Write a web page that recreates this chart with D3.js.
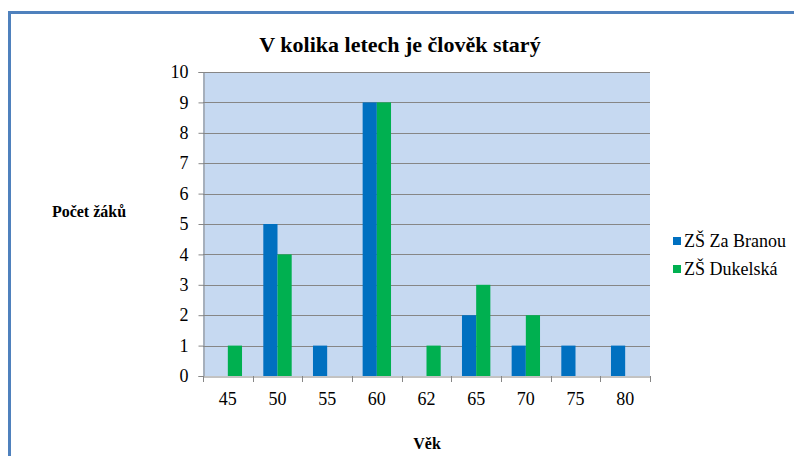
<html>
<head><meta charset="utf-8"></head>
<body style="margin:0">
<svg id="chart" width="794" height="456"></svg>
<script src="https://d3js.org/d3.v7.min.js"></script>
<script>
var ages = ["45", "50", "55", "60", "62", "65", "70", "75", "80"];
var zaBranou = [0, 5, 1, 9, 0, 2, 1, 1, 1];
var dukelska = [1, 4, 0, 9, 1, 3, 2, 0, 0];
var seriesNames = ["ZŠ Za Branou", "ZŠ Dukelská"];
var seriesColors = ["#0070c0", "#00b050"];
var yTicks = [0, 1, 2, 3, 4, 5, 6, 7, 8, 9, 10];

var width = 794, height = 456;
var plot = { left: 203, top: 72, right: 650, bottom: 376 };
var serif = "Liberation Serif";

// force the serif face on a text selection
function font(sel, size, weight) {
    sel.attr("font-family", serif).attr("font-size", size)
        .style("font-family", serif, "important")
        .style("font-size", size + "px", "important")
        .style("font-weight", weight || "normal", "important");
    return sel;
}

var svg = d3.select("#chart");

// outer frame
svg.append("rect")
    .attr("x", 9.5).attr("y", 12.5)
    .attr("width", width).attr("height", height)
    .attr("fill", "none").attr("stroke", "#4f81bd").attr("stroke-width", 3);

var x = d3.scaleBand().domain(ages).range([plot.left, plot.right]);
var y = d3.scaleLinear().domain([0, 10]).range([plot.bottom, plot.top]);
// gap width 150% -> pair of bars takes 2/3.5 of each band
var x1 = d3.scaleBand().domain([0, 1]).range([0, x.bandwidth()]).paddingOuter(0.75);

svg.append("rect")
    .attr("x", plot.left).attr("y", plot.top)
    .attr("width", plot.right - plot.left).attr("height", plot.bottom - plot.top)
    .attr("fill", "#c6d9f1");

svg.append("g").selectAll("line")
    .data(yTicks.filter(function (d) { return d > 0; }))
    .enter().append("line")
    .attr("x1", plot.left).attr("x2", plot.right)
    .attr("y1", function (d) { return Math.round(y(d)) + 0.5; })
    .attr("y2", function (d) { return Math.round(y(d)) + 0.5; })
    .attr("stroke", "#868686");

var rows = ages.map(function (a, i) { return { age: a, vals: [zaBranou[i], dukelska[i]] }; });

svg.append("g").selectAll("g")
    .data(rows).enter().append("g")
    .attr("transform", function (d) { return "translate(" + x(d.age) + ",0)"; })
    .selectAll("rect")
    .data(function (d) { return d.vals.map(function (v, k) { return { v: v, k: k }; }); })
    .enter().append("rect")
    .attr("x", function (d) { return x1(d.k); })
    .attr("width", x1.bandwidth())
    .attr("y", function (d) { return y(d.v); })
    .attr("height", function (d) { return y(0) - y(d.v); })
    .attr("fill", function (d) { return seriesColors[d.k]; });

// y axis
var yAxis = svg.append("g")
    .attr("transform", "translate(" + (plot.left + 0.5) + ",0)")
    .call(d3.axisLeft(y).tickValues(yTicks).tickSize(5).tickPadding(10));
yAxis.select(".domain").attr("stroke", "#868686");
yAxis.selectAll(".tick line").attr("stroke", "#868686");
font(yAxis.selectAll("text").attr("fill", "#000"), 18);

// x axis
var xAxis = svg.append("g")
    .attr("transform", "translate(0," + (plot.bottom + 0.5) + ")")
    .call(d3.axisBottom(x).tickSize(0).tickPadding(16));
xAxis.select(".domain").attr("stroke", "#868686");
font(xAxis.selectAll("text").attr("fill", "#000"), 18);

// tick marks between categories
svg.append("g").selectAll("line")
    .data(d3.range(ages.length + 1))
    .enter().append("line")
    .attr("x1", function (i) { return Math.round(plot.left + i * x.bandwidth()) + 0.5; })
    .attr("x2", function (i) { return Math.round(plot.left + i * x.bandwidth()) + 0.5; })
    .attr("y1", plot.bottom).attr("y2", plot.bottom + 6)
    .attr("stroke", "#868686");

// titles
font(svg.append("text")
    .attr("x", 400).attr("y", 52)
    .attr("text-anchor", "middle")
    .text("V kolika letech je člověk starý"), 22, "bold");

font(svg.append("text")
    .attr("x", 89).attr("y", 217)
    .attr("text-anchor", "middle")
    .text("Počet žáků"), 16, "bold");

font(svg.append("text")
    .attr("x", 427).attr("y", 449)
    .attr("text-anchor", "middle")
    .text("Věk"), 16, "bold");

// legend
var legend = svg.append("g").selectAll("g")
    .data(seriesNames).enter().append("g")
    .attr("transform", function (d, i) { return "translate(673," + (237 + i * 28) + ")"; });
legend.append("rect")
    .attr("width", 8).attr("height", 8)
    .attr("fill", function (d, i) { return seriesColors[i]; });
font(legend.append("text")
    .attr("x", 11).attr("y", 10)
    .text(function (d) { return d; }), 18);
</script>
</body>
</html>
